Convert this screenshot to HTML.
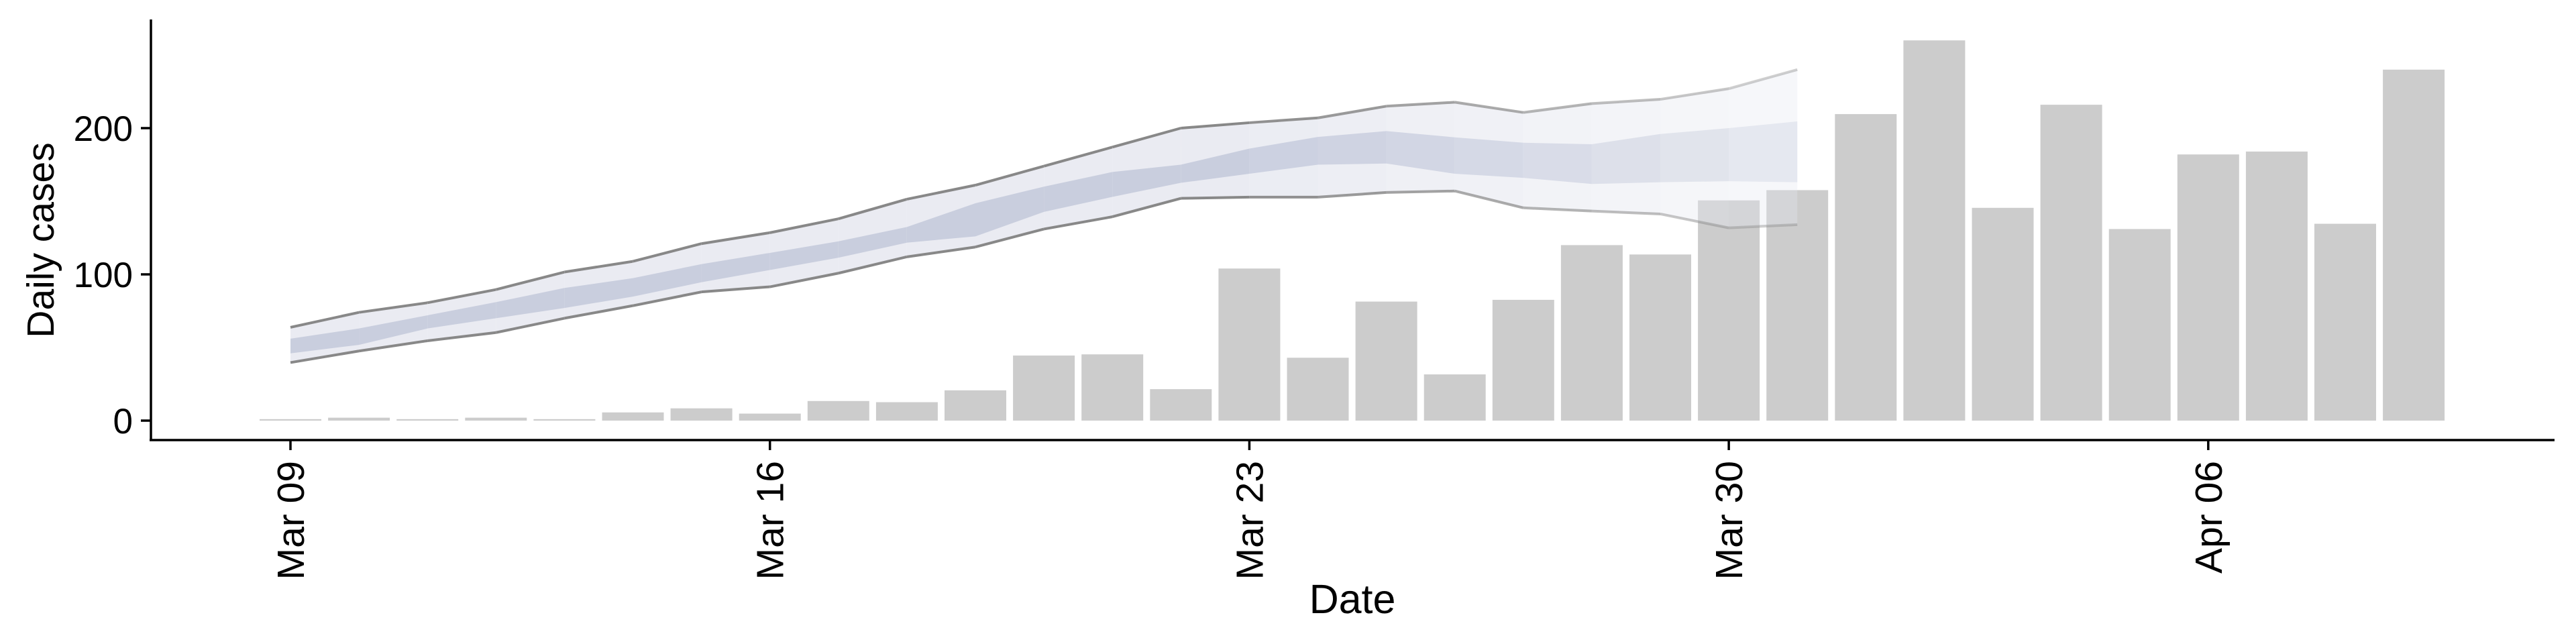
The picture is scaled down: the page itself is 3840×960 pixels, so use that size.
<!DOCTYPE html>
<html><head><meta charset="utf-8"><style>
html,body{margin:0;padding:0;background:#fff}
svg{display:block}
text{font-family:"Liberation Sans",sans-serif;fill:#000}
</style></head><body>
<svg id="chart" width="3840" height="960" viewBox="0 0 3840 960" xmlns="http://www.w3.org/2000/svg">
<g id="bars"></g>
<g id="ribbon"></g>
<g id="axes"></g>
<text transform="translate(80,358) rotate(-90)" text-anchor="middle" font-size="57">Daily cases</text>
<text x="2016" y="914" text-anchor="middle" font-size="61">Date</text>
</svg>
<script>
const barValues = [1,2,1,2,1,5.6,8.4,4.8,13.4,12.6,20.7,44.5,45.3,21.5,104,43,81.4,31.6,82.6,120,113.6,150.6,157.6,209.6,260,145.5,216,131,182,184,134.6,240];
const outerUpper = [63.8,74,80.6,89.6,101.6,108.9,121,128.5,138,151.4,161,174,187,200,203.7,207,215,217.7,210.7,216.8,219.7,227,240];
const outerLower = [39.7,47.6,54.6,60.2,70,78.6,88,91.5,100.8,112,118.7,131,139.4,152,152.8,152.8,156,157,145.5,143.3,141.3,131.8,134];
const innerUpper = [56,63,72,81,90.7,97.4,107,114.7,122.6,132.4,148.6,160,170,175,186,194,198,193.7,190,189,196,200,204.6];
const innerLower = [46,51.8,63,70,77,84.8,94.6,103,111.4,121.7,126,142.7,153,162.6,168.8,175,175.8,168.8,166,161.8,163,163.7,163];
const yTicks = [0,100,200];
const xTickLabels = ["Mar 09","Mar 16","Mar 23","Mar 30","Apr 06"];
const xTickDays = [0,7,14,21,28];

const NS="http://www.w3.org/2000/svg";
const X0=433, DAY=102.1, Y0=627, PER=2.18;
const xs=d=>X0+d*DAY, ys=v=>Y0-v*PER;
function mk(tag,attrs,parent){const e=document.createElementNS(NS,tag);for(const k in attrs)e.setAttribute(k,attrs[k]);parent.appendChild(e);return e;}
const gb=document.getElementById('bars');
barValues.forEach((v,i)=>{
  const r=mk('rect',{x:xs(i)-46,y:ys(v),width:92,height:v*PER,fill:'#cccccc'},gb);
  
  
});
const gr=document.getElementById('ribbon');
const n=outerUpper.length;
function alpha(i){return i<13?1:Math.max(0.3,1-(i-13)*0.075);}
for(let i=0;i<n-1;i++){
  const a=alpha(i);
  const seg=(up,lo,fill,name)=>{
    const p=mk('polygon',{points:`${xs(i)},${ys(up[i])} ${xs(i+1)},${ys(up[i+1])} ${xs(i+1)},${ys(lo[i+1])} ${xs(i)},${ys(lo[i])}`,fill:fill,'fill-opacity':a*0.85},gr);
    
    
  };
  seg(outerUpper,outerLower,'#e6e8f0','outer-band-segment');
  seg(innerUpper,innerLower,'#c3c9db','inner-band-segment');
  [outerUpper,outerLower].forEach((arr,k)=>{
    const l=mk('line',{x1:xs(i),y1:ys(arr[i]),x2:xs(i+1),y2:ys(arr[i+1]),stroke:'#888888','stroke-width':4,'stroke-opacity':a},gr);
    
    
  });
}
const ga=document.getElementById('axes');
let e=mk('line',{x1:225,y1:29,x2:225,y2:657,stroke:'#000','stroke-width':3.5},ga);


e=mk('line',{x1:223,y1:656,x2:3808,y2:656,stroke:'#000','stroke-width':3.5},ga);


yTicks.forEach(v=>{
  const t=mk('line',{x1:210,y1:ys(v),x2:225,y2:ys(v),stroke:'#000','stroke-width':3.5},ga);
  
  
  const l=mk('text',{x:198,y:ys(v)+19,'text-anchor':'end','font-size':53},ga);
  l.textContent=v;
  
  
});
xTickDays.forEach((d,i)=>{
  const t=mk('line',{x1:xs(d),y1:656,x2:xs(d),y2:671,stroke:'#000','stroke-width':3.5},ga);
  
  
  const l=mk('text',{transform:`translate(${xs(d)+20},687) rotate(-90)`,'text-anchor':'end','font-size':57},ga);
  l.textContent=xTickLabels[i];
  
  
});
</script>
</body></html>
